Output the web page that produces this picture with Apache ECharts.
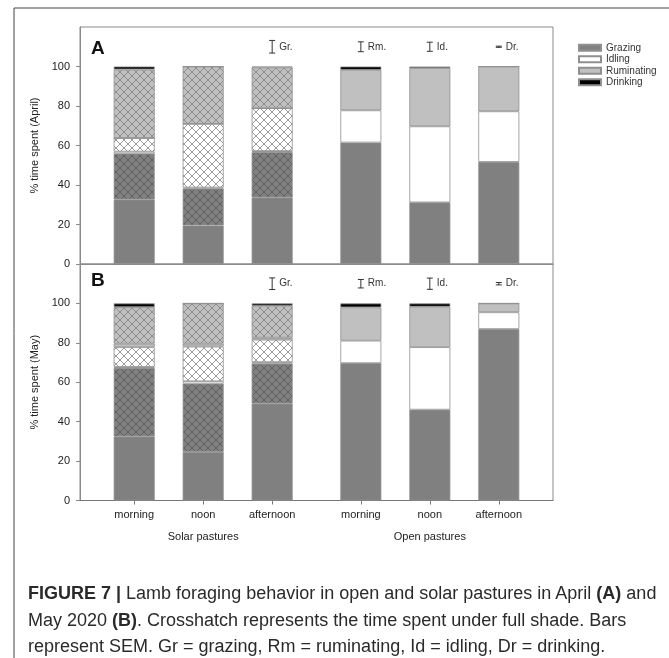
<!DOCTYPE html>
<html><head><meta charset="utf-8">
<script src="https://cdn.jsdelivr.net/npm/echarts@6/dist/echarts.min.js"></script>
<style>
html,body{margin:0;padding:0;background:#fff;}
#wrap{position:relative;width:669px;height:658px;overflow:hidden;}
#chart{position:absolute;left:0;top:0;width:669px;height:658px;}
#caption{position:absolute;left:28px;top:580px;width:640px;font-family:'Liberation Sans',Arial,sans-serif;font-size:18px;line-height:26.5px;color:#2a2a2a;white-space:nowrap;}
</style></head><body>
<div id="wrap"><div id="chart"></div>
<div id="caption"><b>FIGURE 7 |</b> Lamb foraging behavior in open and solar pastures in April <b>(A)</b> and<br>May 2020 <b>(B)</b>. Crosshatch represents the time spent under full shade. Bars<br>represent SEM. Gr = grazing, Rm = ruminating, Id = idling, Dr = drinking.</div>
</div>
<script>
// ---- data ----
const timeLabels = ['morning', 'noon', 'afternoon', 'morning', 'noon', 'afternoon'];
const groupLabels = ['Solar pastures', 'Open pastures'];
const legendNames = ['Grazing', 'Idling', 'Ruminating', 'Drinking'];

// April (A): solar morning, noon, afternoon, open morning, noon, afternoon
const aprGrazingSun      = [32.7, 19.5, 33.7, 61.5, 31.2, 51.7];
const aprGrazingShade    = [23.2, 18.7, 23.0, null, null, null];
const aprIdlingSun       = [1.0, 0.5, 0.5, 16.3, 38.5, 25.6];
const aprIdlingShade     = [6.9, 32.3, 21.7, null, null, null];
const aprRuminatingSun   = [0, 0, 0, 20.5, 29.5, 22.7];
const aprRuminatingShade = [34.7, 29.0, 20.6, null, null, null];
const aprDrinking        = [1.5, 0, 0.5, 1.7, 0.8, 0];

// May (B)
const mayGrazingSun      = [32.5, 24.7, 49.2, 69.7, 46.1, 87.0];
const mayGrazingShade    = [34.8, 34.6, 20.2, null, null, null];
const mayIdlingSun       = [0.5, 1.2, 0.8, 11.4, 31.7, 8.5];
const mayIdlingShade     = [10.0, 17.6, 11.4, null, null, null];
const mayRuminatingSun   = [1.8, 1.5, 1.0, 16.9, 20.5, 4.5];
const mayRuminatingShade = [18.5, 20.4, 16.2, null, null, null];
const mayDrinking        = [1.9, 0, 1.2, 2.0, 1.7, 0];

// SEM indicators (half-length, % units)
const semLabels = ['Gr.', 'Rm.', 'Id.', 'Dr.'];
const aprSem = [3.2, 2.5, 2.3, 0.3];
const maySem = [2.95, 2.15, 2.85, 0.6];

const yTicks = [0, 20, 40, 60, 80, 100];

// ---- layout (not data) ----
const nSlots = 48;
const slotIndex = [5, 12, 19, 28, 35, 42];
const semColumns = [2, 3, 4, 5];
const semCenter = 110;

const cats = [];
for (let i = 0; i < nSlots; i++) {
  const k = slotIndex.indexOf(i);
  cats.push(k >= 0 ? timeLabels[k] : '');
}
function spread(vals) {
  const out = new Array(nSlots).fill('-');
  vals.forEach((v, k) => { out[slotIndex[k]] = (v == null ? '-' : v); });
  return out;
}
function hatch(bg, fg) {
  const c = document.createElement('canvas');
  c.width = 8; c.height = 8;
  const x = c.getContext('2d');
  x.fillStyle = bg; x.fillRect(0, 0, 8, 8);
  x.strokeStyle = fg; x.lineWidth = 0.9;
  x.beginPath();
  x.moveTo(-1, -1); x.lineTo(9, 9);
  x.moveTo(9, -1); x.lineTo(-1, 9);
  x.stroke();
  return { image: c, repeat: 'repeat' };
}
const C_GRAZ = '#808080', C_RUM = '#c0c0c0', C_IDLE = '#ffffff', C_DRINK = '#000000';
const H_GRAZ = hatch(C_GRAZ, '#5c5c5c');
const H_IDLE = hatch(C_IDLE, '#8e8e8e');
const H_RUM = hatch(C_RUM, '#878787');
const FONT = "'Liberation Sans', Arial, sans-serif";

function panelSeries(p, d) {
  const defs = [
    ['Grazing', d[0], C_GRAZ],
    ['Grazing (shade)', d[1], H_GRAZ],
    ['Idling', d[2], C_IDLE],
    ['Idling (shade)', d[3], H_IDLE],
    ['Ruminating', d[4], C_RUM],
    ['Ruminating (shade)', d[5], H_RUM],
    ['Drinking', d[6], C_DRINK]
  ];
  return defs.map(def => ({
    type: 'bar', name: def[0], xAxisIndex: p, yAxisIndex: p, stack: 'p' + p,
    barWidth: 41, data: spread(def[1]), animation: false, silent: true,
    itemStyle: { color: def[2], borderColor: '#8f8f8f', borderWidth: 0.8 }
  }));
}
function semSeries(p, sem) {
  return {
    type: 'custom', xAxisIndex: p, yAxisIndex: p, animation: false, silent: true,
    data: sem.map((s, i) => [slotIndex[semColumns[i]], semCenter, s]),
    renderItem: function (params, api) {
      const x = api.value(0), c = api.value(1), s = api.value(2);
      const t = api.coord([x, c + s]), b = api.coord([x, c - s]);
      const hw = 3, st = { stroke: '#333', lineWidth: 1 };
      return {
        type: 'group', children: [
          { type: 'line', shape: { x1: t[0], y1: t[1], x2: b[0], y2: b[1] }, style: st },
          { type: 'line', shape: { x1: t[0] - hw, y1: t[1], x2: t[0] + hw, y2: t[1] }, style: st },
          { type: 'line', shape: { x1: b[0] - hw, y1: b[1], x2: b[0] + hw, y2: b[1] }, style: st },
          { type: 'text', x: t[0] + 7, y: (t[1] + b[1]) / 2,
            style: { text: semLabels[params.dataIndex], fill: '#333', font: '10px ' + FONT, verticalAlign: 'middle', align: 'left' } }
        ]
      };
    }
  };
}
function yAxis(p, name) {
  return {
    type: 'value', gridIndex: p, min: 0, max: 120, interval: 20,
    name: name, nameLocation: 'middle', nameGap: 38, nameRotate: 90,
    nameTextStyle: { fontSize: 11, color: '#222', fontFamily: FONT },
    axisLine: { show: true, lineStyle: { color: '#8a8a8a' } },
    axisTick: { show: true, length: 4, customValues: yTicks, lineStyle: { color: '#8a8a8a' } },
    axisLabel: { customValues: yTicks, fontSize: 11, color: '#222', margin: 10, fontFamily: FONT,
      formatter: v => (v > 100 ? '' : String(v)) },
    splitLine: { show: false }
  };
}
const isSlot = i => slotIndex.indexOf(i) >= 0;

const chart = echarts.init(document.getElementById('chart'), null, { renderer: 'canvas' });
chart.setOption({
  backgroundColor: '#fff',
  animation: false,
  textStyle: { fontFamily: FONT },
  title: [
    { text: 'A', left: 86, top: 34, textStyle: { fontSize: 19, fontWeight: 'bold', color: '#111', fontFamily: FONT } },
    { text: 'B', left: 86, top: 266, textStyle: { fontSize: 19, fontWeight: 'bold', color: '#111', fontFamily: FONT } }
  ],
  legend: {
    data: legendNames, orient: 'vertical', left: 573, top: 37,
    itemWidth: 22, itemHeight: 6, itemGap: 0, icon: 'rect', selectedMode: false,
    textStyle: { fontSize: 10, color: '#333', lineHeight: 11.5, fontFamily: FONT }
  },
  grid: [
    { left: 80, top: 27, width: 473, height: 237, show: true, borderColor: '#8a8a8a', borderWidth: 1 },
    { left: 80, top: 264, width: 473, height: 236.5, show: true, borderColor: '#8a8a8a', borderWidth: 1 }
  ],
  xAxis: [
    { type: 'category', gridIndex: 0, data: cats, boundaryGap: true,
      axisLine: { lineStyle: { color: '#8a8a8a' } }, axisTick: { show: false }, axisLabel: { show: false } },
    { type: 'category', gridIndex: 1, data: cats, boundaryGap: true,
      axisLine: { lineStyle: { color: '#777' } },
      axisTick: { show: true, alignWithLabel: true, interval: (i) => isSlot(i), length: 4, lineStyle: { color: '#777' } },
      axisLabel: { interval: (i) => isSlot(i), fontSize: 11, color: '#222', margin: 9, lineHeight: 11, fontFamily: FONT,
        formatter: function (v, i) {
          const k = slotIndex.indexOf(i);
          if (k === 1) return v + '\n\n' + groupLabels[0];
          if (k === 4) return v + '\n\n' + groupLabels[1];
          return v;
        } } }
  ],
  yAxis: [yAxis(0, '% time spent (April)'), yAxis(1, '% time spent (May)')],
  graphic: [
    { type: 'polyline', shape: { points: [[14, 700], [14, 8], [700, 8]] }, style: { stroke: '#444', lineWidth: 1, fill: null }, silent: true }
  ],
  series: [].concat(
    panelSeries(0, [aprGrazingSun, aprGrazingShade, aprIdlingSun, aprIdlingShade, aprRuminatingSun, aprRuminatingShade, aprDrinking]),
    panelSeries(1, [mayGrazingSun, mayGrazingShade, mayIdlingSun, mayIdlingShade, mayRuminatingSun, mayRuminatingShade, mayDrinking]),
    [semSeries(0, aprSem), semSeries(1, maySem)]
  )
});
</script>
</body></html>
